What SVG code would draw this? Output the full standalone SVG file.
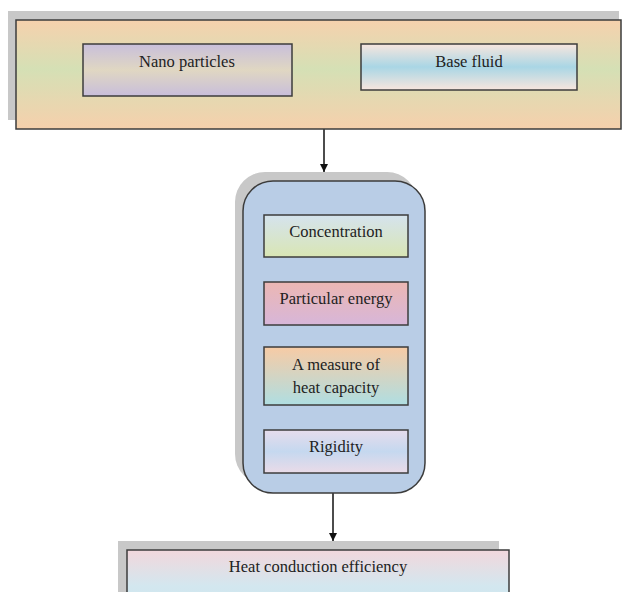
<svg xmlns="http://www.w3.org/2000/svg" width="623" height="592" viewBox="0 0 623 592">
  <style>
    .shadow { fill: #c8c8c8; }
    .box { stroke: #3c3c3c; stroke-width: 1.5; }
    .label { font-family: "Liberation Serif", "Times New Roman", serif; font-size: 16.5px; fill: #222; text-anchor: middle; }
    .conn { stroke: #111; stroke-width: 1.5; fill: none; }
  </style>
  <defs>
    <linearGradient id="gTop" x1="0" y1="0" x2="0" y2="1">
      <stop offset="0" stop-color="#f6d1ad"/>
      <stop offset="0.45" stop-color="#d5e0b5"/>
      <stop offset="1" stop-color="#f6d0ac"/>
    </linearGradient>
    <linearGradient id="gNano" x1="0" y1="0" x2="0" y2="1">
      <stop offset="0" stop-color="#c8bfdb"/>
      <stop offset="0.5" stop-color="#e0d7c2"/>
      <stop offset="1" stop-color="#c8bedb"/>
    </linearGradient>
    <linearGradient id="gBase" x1="0" y1="0" x2="0" y2="1">
      <stop offset="0" stop-color="#f8e6de"/>
      <stop offset="0.5" stop-color="#a9d6e5"/>
      <stop offset="1" stop-color="#f8e6de"/>
    </linearGradient>
    <linearGradient id="gConc" x1="0" y1="0" x2="0" y2="1">
      <stop offset="0" stop-color="#d5e3ee"/>
      <stop offset="1" stop-color="#d9e6b4"/>
    </linearGradient>
    <linearGradient id="gEnergy" x1="0" y1="0" x2="0" y2="1">
      <stop offset="0" stop-color="#ecb7b3"/>
      <stop offset="1" stop-color="#d7b6d9"/>
    </linearGradient>
    <linearGradient id="gHeat" x1="0" y1="0" x2="0" y2="1">
      <stop offset="0" stop-color="#f7cba5"/>
      <stop offset="1" stop-color="#afdee2"/>
    </linearGradient>
    <linearGradient id="gRigid" x1="0" y1="0" x2="0" y2="1">
      <stop offset="0" stop-color="#e6dcec"/>
      <stop offset="0.5" stop-color="#c5d8ef"/>
      <stop offset="1" stop-color="#eadbe8"/>
    </linearGradient>
    <linearGradient id="gOut" x1="0" y1="0" x2="0" y2="1">
      <stop offset="0" stop-color="#f2d7dc"/>
      <stop offset="0.6" stop-color="#d3e7ef"/>
      <stop offset="1" stop-color="#cce6ef"/>
    </linearGradient>
    <marker id="arrow" viewBox="0 0 10 10" refX="10" refY="5" markerWidth="8" markerHeight="8" markerUnits="userSpaceOnUse" orient="auto">
      <path d="M0,0 L10,5 L0,10 Z" fill="#111"/>
    </marker>
  </defs>

  <!-- connectors -->
  <g id="connectors">
    <line class="conn" x1="324" y1="129" x2="324" y2="172" marker-end="url(#arrow)"/>
    <line class="conn" x1="333" y1="493" x2="333" y2="541" marker-end="url(#arrow)"/>
  </g>

  <!-- inputs panel -->
  <g id="inputs">
    <rect class="shadow" x="8" y="11" width="611" height="109"/>
    <rect class="box" x="16" y="20" width="605" height="109" fill="url(#gTop)"/>
  </g>
  <g id="nano-particles">
    <rect class="box" x="83" y="44" width="209" height="52" fill="url(#gNano)"/>
    <text class="label" x="187" y="67">Nano particles</text>
  </g>
  <g id="base-fluid">
    <rect class="box" x="361" y="44" width="216" height="46" fill="url(#gBase)"/>
    <text class="label" x="469" y="67">Base fluid</text>
  </g>

  <!-- property panel -->
  <g id="properties">
    <rect class="shadow" x="235" y="172" width="182" height="312" rx="30" ry="30"/>
    <rect class="box" x="243" y="181" width="182" height="312" rx="30" ry="30" fill="#b9cde6"/>
  </g>
  <g id="concentration">
    <rect class="box" x="264" y="215" width="144" height="42" fill="url(#gConc)"/>
    <text class="label" x="336" y="237">Concentration</text>
  </g>
  <g id="particular-energy">
    <rect class="box" x="264" y="282" width="144" height="43" fill="url(#gEnergy)"/>
    <text class="label" x="336" y="304">Particular energy</text>
  </g>
  <g id="heat-capacity">
    <rect class="box" x="264" y="347" width="144" height="58" fill="url(#gHeat)"/>
    <text class="label" x="336" y="370">A measure of</text>
    <text class="label" x="336" y="393">heat capacity</text>
  </g>
  <g id="rigidity">
    <rect class="box" x="264" y="430" width="144" height="43" fill="url(#gRigid)"/>
    <text class="label" x="336" y="452">Rigidity</text>
  </g>

  <!-- result -->
  <g id="heat-conduction-efficiency">
    <rect class="shadow" x="118" y="541" width="381" height="60"/>
    <rect class="box" x="127" y="550" width="382" height="60" fill="url(#gOut)"/>
    <text class="label" x="318" y="572">Heat conduction efficiency</text>
  </g>
</svg>
